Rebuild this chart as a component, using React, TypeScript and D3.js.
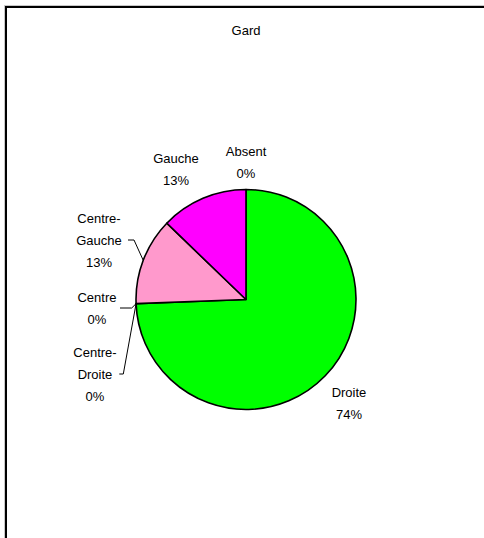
import React from "react";
import * as d3 from "d3";

const title = "Gard";
const categories = ["Droite", "Centre-Droite", "Centre", "Centre-Gauche", "Gauche", "Absent"];
const labelLines = [["Droite"], ["Centre-", "Droite"], ["Centre"], ["Centre-", "Gauche"], ["Gauche"], ["Absent"]];
const values = [74.4, 0, 0, 12.8, 12.8, 0];
const colors = ["#00FF00", "#00FF00", "#00FF00", "#FF99CC", "#FF00FF", "#FF00FF"];

// label layout (relative to pie centre): [x, first baseline y]
const labelLayout: [number, number][] = [
  [103, 97],
  [-151, 57],
  [-149, 2],
  [-147, -77],
  [-70, -137],
  [0, -144],
];
// leader line start segments (relative), null when none
const leaderLayout: ([number, number, number] | null)[] = [
  null,
  [-126.7, -122.7, 74.5],
  [-126, -114.3, 8.5],
  [-118, -112, -59.5],
  null,
  null,
];

export default function App() {
  const W = 484, H = 538;
  const cx = 246, cy = 299.5, r = 110;
  const total = d3.sum(values);
  const pie = d3.pie<number>().sort(null).value((d) => d)(values);
  const arc = d3.arc<d3.PieArcDatum<number>>().innerRadius(0).outerRadius(r);
  const fmt = (v: number) => `${Math.round((v / total) * 100)}%`;
  const font = "'Liberation Sans', Arial, sans-serif";
  const lh = 22;

  return (
    <svg width={W} height={H} style={{ position: "absolute", left: 0, top: 0, background: "#fff" }}>
      <rect x={4.5} y={5.5} width={700} height={700} fill="none" stroke="#c8c8c8" strokeWidth={1} />
      <rect x={6} y={7} width={700} height={700} fill="#fff" stroke="#000" strokeWidth={2} />
      <text x={246} y={35} textAnchor="middle" fontFamily={font} fontSize={13} fill="#000">
        {title}
      </text>
      <g transform={`translate(${cx},${cy})`}>
        {pie.map((p, i) =>
          p.endAngle - p.startAngle > 0 ? (
            <path key={i} d={arc(p) || ""} fill={colors[i]} stroke="#000" strokeWidth={1.6} strokeLinejoin="round" />
          ) : null
        )}
        {pie.map((p, i) => {
          const lead = leaderLayout[i];
          if (!lead) return null;
          const a = (p.startAngle + p.endAngle) / 2;
          const ex = r * Math.sin(a);
          const ey = -r * Math.cos(a);
          return (
            <polyline
              key={"l" + i}
              points={`${lead[0]},${lead[2]} ${lead[1]},${lead[2]} ${ex},${ey}`}
              fill="none"
              stroke="#000"
              strokeWidth={1}
            />
          );
        })}
        {pie.map((p, i) => {
          const [lx, ly] = labelLayout[i];
          const lines = [...labelLines[i], fmt(values[i])];
          return (
            <text key={"t" + i} x={lx} y={ly} textAnchor="middle" fontFamily={font} fontSize={13} fill="#000">
              {lines.map((s, j) => (
                <tspan key={j} x={lx} y={ly + j * lh}>
                  {s}
                </tspan>
              ))}
            </text>
          );
        })}
      </g>
    </svg>
  );
}
